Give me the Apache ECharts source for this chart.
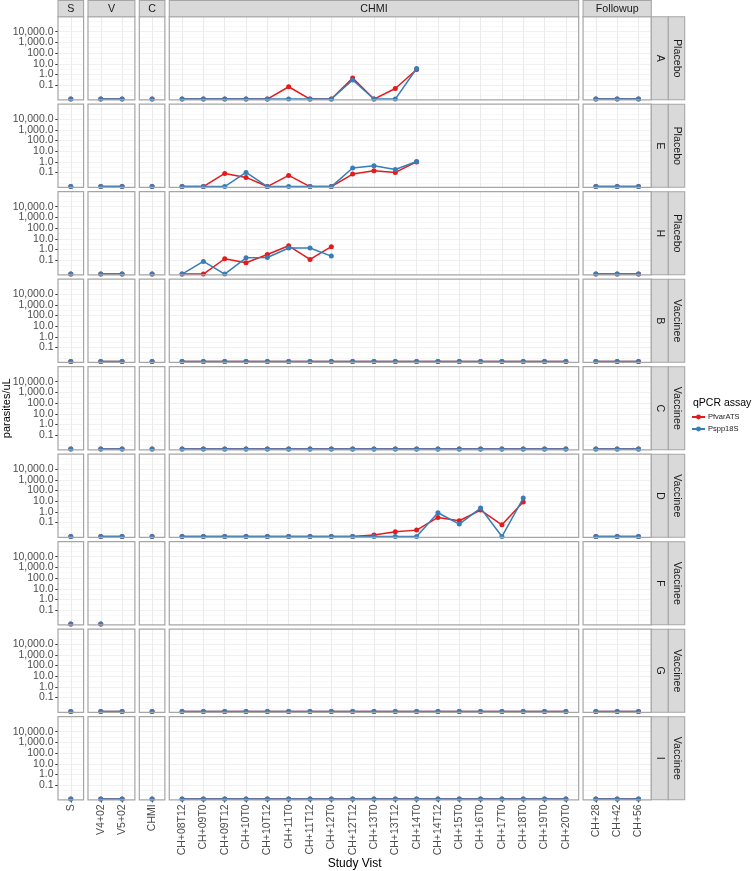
<!DOCTYPE html>
<html>
<head>
<meta charset="utf-8">
<script src="https://cdn.jsdelivr.net/npm/echarts@6/dist/echarts.min.js"></script>
<style>
html,body{margin:0;padding:0;background:#fff;}
#chart{width:752px;height:871px;}
</style>
</head>
<body>
<div id="chart"></div>
<script>
// ---------------- data ----------------
const colS = ['S'];
const colV = ['V4+02', 'V5+02'];
const colC = ['CHMI'];
const colCHMI = ['CH+08T12','CH+09T0','CH+09T12','CH+10T0','CH+10T12','CH+11T0','CH+11T12','CH+12T0','CH+12T12','CH+13T0','CH+13T12','CH+14T0','CH+14T12','CH+15T0','CH+16T0','CH+17T0','CH+18T0','CH+19T0','CH+20T0'];
const colFollowup = ['CH+28', 'CH+42', 'CH+56'];
const columnStrips = ['S', 'V', 'C', 'CHMI', 'Followup'];
const subjects = ['A', 'E', 'H', 'B', 'C', 'D', 'F', 'G', 'I'];
const groups = ['Placebo','Placebo','Placebo','Vaccinee','Vaccinee','Vaccinee','Vaccinee','Vaccinee','Vaccinee'];
const assays = ['PfvarATS', 'Pspp18S'];
const yTickValues = [0.1, 1, 10, 100, 1000, 10000];
const yTickLabels = ['0.1', '1.0', '10.0', '100.0', '1,000.0', '10,000.0'];

const _ = null;
// values in visit order: S | V4+02 V5+02 | CHMI | 19 CHMI visits | CH+28 CH+42 CH+56
const A_PfvarATS = [0, 0,0, 0, 0,0,0,0,0,0.066,0,0,0.45,0,0.044,2.9,_,_,_,_,_,_,_, 0,0,0];
const A_Pspp18S  = [0, 0,0, 0, 0,0,0,0,0,0,0,0,0.30,0,0,3.6,_,_,_,_,_,_,_, 0,0,0];
const E_PfvarATS = [0, 0,0, 0, 0,0,0.080,0.031,0,0.050,0,0,0.069,0.146,0.100,1.0,_,_,_,_,_,_,_, 0,0,0];
const E_Pspp18S  = [0, 0,0, 0, 0,0,0,0.10,0,0,0,0,0.264,0.437,0.195,1.1,_,_,_,_,_,_,_, 0,0,0];
const H_PfvarATS = [0, 0,0, 0, 0,0,0.13,0.052,0.334,2.2,0.112,1.8,_,_,_,_,_,_,_,_,_,_,_, 0,0,0];
const H_Pspp18S  = [0, 0,0, 0, 0,0.071,0,0.161,0.173,1.35,1.35,0.235,_,_,_,_,_,_,_,_,_,_,_, 0,0,0];
const B_PfvarATS = [0, 0,0, 0, 0,0,0,0,0,0,0,0,0,0,0,0,0,0,0,0,0,0,0, 0,0,0];
const B_Pspp18S  = [0, 0,0, 0, 0,0,0,0,0,0,0,0,0,0,0,0,0,0,0,0,0,0,0, 0,0,0];
const C_PfvarATS = [0, 0,0, 0, 0,0,0,0,0,0,0,0,0,0,0,0,0,0,0,0,0,0,0, 0,0,0];
const C_Pspp18S  = [0, 0,0, 0, 0,0,0,0,0,0,0,0,0,0,0,0,0,0,0,0,0,0,0, 0,0,0];
const D_PfvarATS = [0, 0,0, 0, 0,0,0,0,0,0,0,0,0,0.002,0.009,0.015,0.30,0.146,1.5,0.058,8.5,_,_, 0,0,0];
const D_Pspp18S  = [0, 0,0, 0, 0,0,0,0,0,0,0,0,0,0,0,0,0.84,0.069,2.3,0,20,_,_, 0,0,0];
const F_PfvarATS = [0, 0,_, _, _,_,_,_,_,_,_,_,_,_,_,_,_,_,_,_,_,_,_, _,_,_];
const F_Pspp18S  = [0, 0,_, _, _,_,_,_,_,_,_,_,_,_,_,_,_,_,_,_,_,_,_, _,_,_];
const G_PfvarATS = [0, 0,0, 0, 0,0,0,0,0,0,0,0,0,0,0,0,0,0,0,0,0,0,0, 0,0,0];
const G_Pspp18S  = [0, 0,0, 0, 0,0,0,0,0,0,0,0,0,0,0,0,0,0,0,0,0,0,0, 0,0,0];
const I_PfvarATS = [0, 0,0, 0, 0,0,0,0,0,0,0,0,0,0,0,0,0,0,0,0,0,0,0, 0,0,0];
const I_Pspp18S  = [0, 0,0, 0, 0,0,0,0,0,0,0,0,0,0,0,0,0,0,0,0,0,0,0, 0,0,0];

const seriesData = {
  A: [A_PfvarATS, A_Pspp18S], E: [E_PfvarATS, E_Pspp18S], H: [H_PfvarATS, H_Pspp18S],
  B: [B_PfvarATS, B_Pspp18S], C: [C_PfvarATS, C_Pspp18S], D: [D_PfvarATS, D_Pspp18S],
  F: [F_PfvarATS, F_Pspp18S], G: [G_PfvarATS, G_Pspp18S], I: [I_PfvarATS, I_Pspp18S]
};

// ---------------- layout & style ----------------
const FONT = 'Liberation Sans, Arial, Helvetica, sans-serif';
const colors = ['#E41A1C', '#377EB8'];
const OFFSET = 0.005;               // pseudo-log offset so zero can be shown
const tf = v => Math.log10(v + OFFSET);
const YMIN = -2.37, YMAX = 5.40;

const columns = [colS, colV, colC, colCHMI, colFollowup];
const PL = 58, PR = 651.3, PT = 16.7, PB = 799.8, GAP = 4.4;
const units = columns.map(c => c.length - 1 + 1.2);
const totalU = units.reduce((a, b) => a + b, 0);
const unit = (PR - PL - GAP * (columns.length - 1)) / totalU;
const colX = [];
{ let x = PL; units.forEach(w => { colX.push({ x: x, w: w * unit }); x += w * unit + GAP; }); }
const rowH = (PB - PT - GAP * (subjects.length - 1)) / subjects.length;
const rowY = subjects.map((s, i) => PT + i * (rowH + GAP));

const majorPos = yTickValues.map(tf);
// labels split into two alternating sets (each drawn by its own axis so none get auto-hidden)
const labelSetA = majorPos.filter((p, i) => i % 2 === 0);
const labelSetB = majorPos.filter((p, i) => i % 2 === 1);
const labelFor = v => { let bi = 0; majorPos.forEach((p, i) => { if (Math.abs(p - v) < Math.abs(majorPos[bi] - v)) bi = i; }); return yTickLabels[bi]; };
const bd = majorPos[1] - majorPos[0];
const extMajors = [majorPos[0] - bd].concat(majorPos, [majorPos[majorPos.length - 1] + bd]);
const minorPos = [];
for (let i = 0; i < extMajors.length - 1; i++) {
  minorPos.push(extMajors[i], (extMajors[i] + extMajors[i + 1]) / 2);
}
minorPos.push(extMajors[extMajors.length - 1]);
const minorInRange = minorPos.filter(v => v > YMIN && v < YMAX);

const colStart = [];
{ let s = 0; columns.forEach(c => { colStart.push(s); s += c.length; }); }

const labelStyle = { margin: 4.5, fontSize: 10.5, color: '#4D4D4D', fontFamily: FONT, hideOverlap: false, showMinLabel: true, showMaxLabel: true };

const grids = [], xAxes = [], yAxes = [], series = [], graphics = [];
subjects.forEach((subj, r) => {
  columns.forEach((col, c) => {
    const g = grids.length;
    grids.push({ left: colX[c].x, top: rowY[r], width: colX[c].w, height: rowH, containLabel: false });
    const idx = col.map((_, i) => i);
    const bottom = r === subjects.length - 1;
    xAxes.push({
      gridIndex: g, type: 'value', min: -0.6, max: col.length - 1 + 0.6, position: 'bottom',
      axisLine: { show: false, onZero: false },
      axisTick: { show: bottom, length: 2.7, customValues: idx, lineStyle: { color: '#333333', width: 1 } },
      axisLabel: Object.assign({ show: bottom, customValues: idx, rotate: 90, formatter: v => col[Math.round(v)] }, labelStyle),
      splitLine: { show: true, lineStyle: { color: '#EBEBEB', width: 1 } }
    });
    const left = c === 0;
    yAxes.push({
      gridIndex: g, type: 'value', min: YMIN, max: YMAX, position: 'left',
      axisLine: { show: false, onZero: false },
      axisTick: { show: left, length: 2.7, customValues: majorPos, lineStyle: { color: '#333333', width: 1 } },
      axisLabel: Object.assign({ show: left, customValues: labelSetA, formatter: labelFor }, labelStyle),
      splitLine: { show: true, lineStyle: { color: '#EBEBEB', width: 1 } }
    });
    yAxes.push({
      gridIndex: g, type: 'value', min: YMIN, max: YMAX, position: 'right',
      axisLine: { show: false, onZero: false },
      axisTick: { show: false, customValues: minorInRange },
      axisLabel: { show: false, customValues: minorInRange },
      splitLine: { show: true, lineStyle: { color: '#F4F4F4', width: 0.6 } }
    });
    yAxes.push({
      gridIndex: g, type: 'value', min: YMIN, max: YMAX, position: 'left', offset: 0,
      axisLine: { show: false, onZero: false },
      axisTick: { show: false, customValues: labelSetB },
      axisLabel: Object.assign({ show: left, customValues: labelSetB, formatter: labelFor }, labelStyle),
      splitLine: { show: false }
    });
    assays.forEach((a, k) => {
      const vals = seriesData[subj][k].slice(colStart[c], colStart[c] + col.length);
      const pts = [];
      vals.forEach((v, i) => { if (v !== null) pts.push([i, tf(v)]); });
      series.push({
        type: 'line', name: a, xAxisIndex: g, yAxisIndex: 3 * g, data: pts,
        symbol: 'circle', symbolSize: 5, showSymbol: true, clip: false, z: 3 + k,
        lineStyle: { color: colors[k], width: 1.5 }, itemStyle: { color: colors[k] },
        emphasis: { disabled: true }, animation: false, silent: true
      });
    });
    // panel border on top
    graphics.push({ type: 'rect', z: 100, shape: { x: colX[c].x, y: rowY[r], width: colX[c].w, height: rowH },
      style: { fill: null, stroke: '#A6A6A6', lineWidth: 1.2 } });
  });
  // right strips
  const sx1 = PR, sw1 = 17, sx2 = PR + 17, sw2 = 16.4;
  graphics.push({ type: 'rect', z: 100, shape: { x: sx1, y: rowY[r], width: sw1, height: rowH },
    style: { fill: '#D9D9D9', stroke: '#A6A6A6', lineWidth: 1.1 } });
  graphics.push({ type: 'rect', z: 100, shape: { x: sx2, y: rowY[r], width: sw2, height: rowH },
    style: { fill: '#D9D9D9', stroke: '#A6A6A6', lineWidth: 1.1 } });
  graphics.push({ type: 'text', z: 101, x: sx1 + sw1 / 2, y: rowY[r] + rowH / 2, rotation: -Math.PI / 2,
    style: { text: subj, fill: '#1A1A1A', font: '10.7px ' + FONT, align: 'center', verticalAlign: 'middle' } });
  graphics.push({ type: 'text', z: 101, x: sx2 + sw2 / 2, y: rowY[r] + rowH / 2, rotation: -Math.PI / 2,
    style: { text: groups[r], fill: '#1A1A1A', font: '10.7px ' + FONT, align: 'center', verticalAlign: 'middle' } });
});
// top strips
columns.forEach((col, c) => {
  graphics.push({ type: 'rect', z: 100, shape: { x: colX[c].x, y: 0.5, width: colX[c].w, height: PT - 0.5 },
    style: { fill: '#D9D9D9', stroke: '#A6A6A6', lineWidth: 1.1 } });
  graphics.push({ type: 'text', z: 101, x: colX[c].x + colX[c].w / 2, y: (PT + 0.5) / 2,
    style: { text: columnStrips[c], fill: '#1A1A1A', font: '10.7px ' + FONT, align: 'center', verticalAlign: 'middle' } });
});
// axis titles
graphics.push({ type: 'text', z: 101, x: (PL + PR) / 2, y: 864,
  style: { text: 'Study Vist', fill: '#000', font: '12px ' + FONT, align: 'center', verticalAlign: 'middle' } });
graphics.push({ type: 'text', z: 101, x: 7, y: (PT + PB) / 2, rotation: Math.PI / 2,
  style: { text: 'parasites/uL', fill: '#000', font: '11px ' + FONT, align: 'center', verticalAlign: 'middle' } });
// legend title
graphics.push({ type: 'text', z: 101, x: 693, y: 403,
  style: { text: 'qPCR assay', fill: '#000', font: '10.5px ' + FONT, align: 'left', verticalAlign: 'middle' } });

const chart = echarts.init(document.getElementById('chart'), null, { renderer: 'canvas' });
chart.setOption({
  animation: false,
  backgroundColor: '#ffffff',
  grid: grids,
  xAxis: xAxes,
  yAxis: yAxes,
  series: series,
  legend: {
    data: assays, orient: 'vertical', left: 691, top: 413, itemWidth: 13, itemHeight: 6, itemGap: 4,
    padding: 0, selectedMode: false,
    textStyle: { fontSize: 7.5, color: '#1A1A1A', fontFamily: FONT, padding: [0, 0, 0, -2] }
  },
  graphic: graphics
});
</script>
</body>
</html>
